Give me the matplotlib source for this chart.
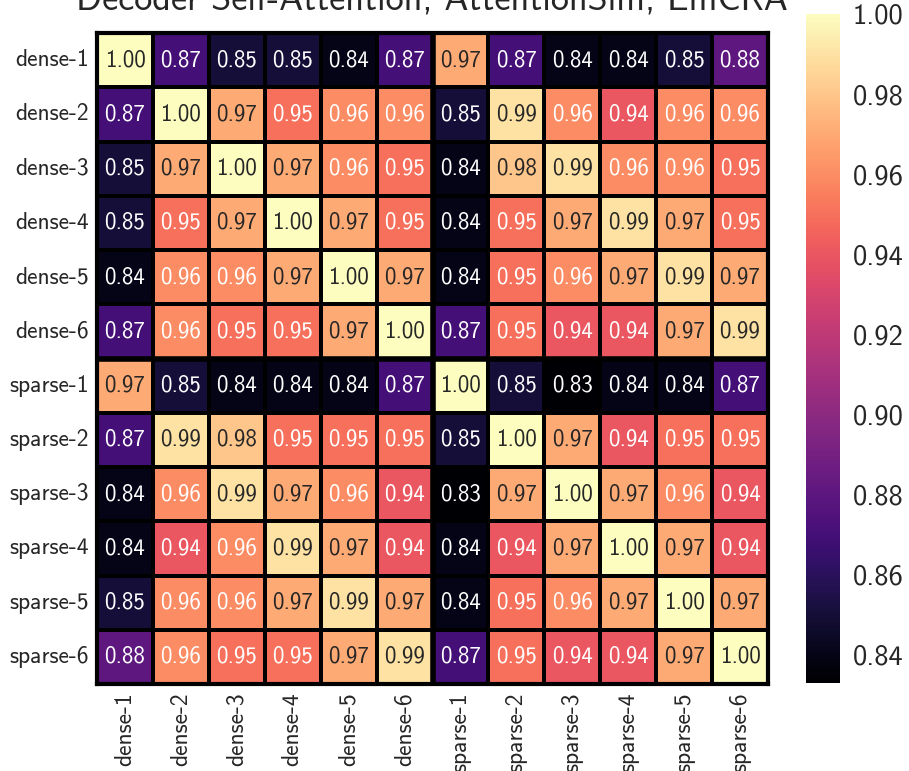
import numpy as np
import matplotlib
matplotlib.use("Agg")
import matplotlib.pyplot as plt
import seaborn as sns

labels = ["dense-1", "dense-2", "dense-3", "dense-4", "dense-5", "dense-6",
          "sparse-1", "sparse-2", "sparse-3", "sparse-4", "sparse-5", "sparse-6"]

dense_1 = [1.00, 0.87, 0.85, 0.85, 0.84, 0.87, 0.97, 0.87, 0.84, 0.84, 0.85, 0.88]
dense_2 = [0.87, 1.00, 0.97, 0.95, 0.96, 0.96, 0.85, 0.99, 0.96, 0.94, 0.96, 0.96]
dense_3 = [0.85, 0.97, 1.00, 0.97, 0.96, 0.95, 0.84, 0.98, 0.99, 0.96, 0.96, 0.95]
dense_4 = [0.85, 0.95, 0.97, 1.00, 0.97, 0.95, 0.84, 0.95, 0.97, 0.99, 0.97, 0.95]
dense_5 = [0.84, 0.96, 0.96, 0.97, 1.00, 0.97, 0.84, 0.95, 0.96, 0.97, 0.99, 0.97]
dense_6 = [0.87, 0.96, 0.95, 0.95, 0.97, 1.00, 0.87, 0.95, 0.94, 0.94, 0.97, 0.99]
sparse_1 = [0.97, 0.85, 0.84, 0.84, 0.84, 0.87, 1.00, 0.85, 0.83, 0.84, 0.84, 0.87]
sparse_2 = [0.87, 0.99, 0.98, 0.95, 0.95, 0.95, 0.85, 1.00, 0.97, 0.94, 0.95, 0.95]
sparse_3 = [0.84, 0.96, 0.99, 0.97, 0.96, 0.94, 0.83, 0.97, 1.00, 0.97, 0.96, 0.94]
sparse_4 = [0.84, 0.94, 0.96, 0.99, 0.97, 0.94, 0.84, 0.94, 0.97, 1.00, 0.97, 0.94]
sparse_5 = [0.85, 0.96, 0.96, 0.97, 0.99, 0.97, 0.84, 0.95, 0.96, 0.97, 1.00, 0.97]
sparse_6 = [0.88, 0.96, 0.95, 0.95, 0.97, 0.99, 0.87, 0.95, 0.94, 0.94, 0.97, 1.00]

colorbar_ticks = [0.84, 0.86, 0.88, 0.90, 0.92, 0.94, 0.96, 0.98, 1.00]

sim = np.array([dense_1, dense_2, dense_3, dense_4, dense_5, dense_6,
                sparse_1, sparse_2, sparse_3, sparse_4, sparse_5, sparse_6])

sns.set_theme(style="white")
plt.rcParams["font.family"] = ["cmss10", "DejaVu Sans"]
plt.rcParams["axes.unicode_minus"] = False

fig = plt.figure(figsize=(9.09, 7.71), dpi=100)
W, H = 909, 771
ax = fig.add_axes([97 / W, 1 - 684 / H, 671 / W, 651 / H])
cax = fig.add_axes([806 / W, 1 - 683 / H, 34 / W, 669 / H])

sns.heatmap(sim, ax=ax, cbar_ax=cax, cmap="magma", vmin=0.833, vmax=1.0,
            annot=True, fmt=".2f", annot_kws={"fontsize": 16.5},
            linewidths=1.5, linecolor="black",
            xticklabels=labels, yticklabels=labels)

# block separators between dense and sparse groups
n_dense = 6
ax.axhline(n_dense, color="black", lw=4)
ax.axvline(n_dense, color="black", lw=4)
for side in ["top", "bottom", "left", "right"]:
    ax.spines[side].set_visible(True)
    ax.spines[side].set_color("black")
    ax.spines[side].set_linewidth(3)

ax.tick_params(axis="both", length=0, labelsize=17, colors="#262626", pad=6)
ax.set_xticklabels(labels, rotation=90)
ax.set_yticklabels(labels, rotation=0)

cax.set_yticks(colorbar_ticks)
cax.set_yticklabels([f"{t:.2f}" for t in colorbar_ticks])
cax.tick_params(labelsize=20.5, length=0, colors="#262626", pad=9)

fig.text(432 / W, 1 - 10 / H, "Decoder Self-Attention, AttentionSim, EmCRA",
         ha="center", va="baseline", fontsize=26, color="#262626")

fig.savefig("out.png", dpi=100)
